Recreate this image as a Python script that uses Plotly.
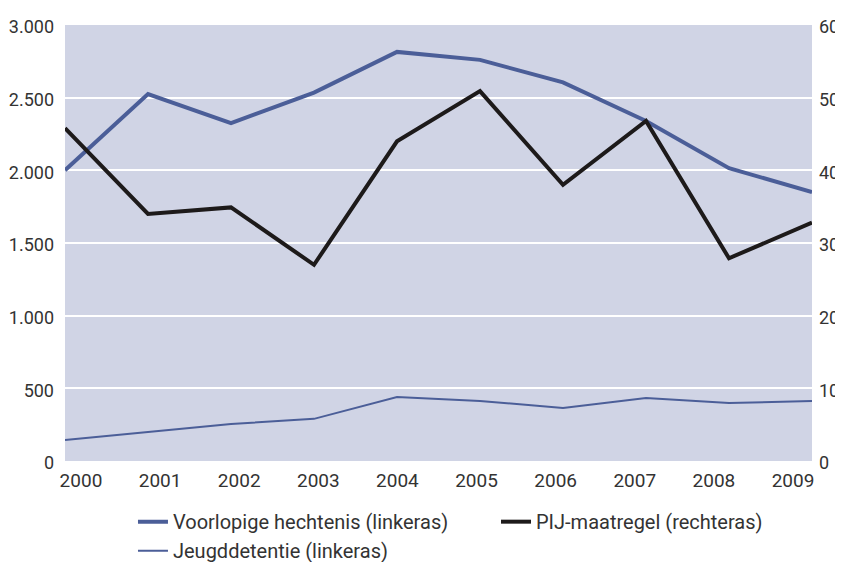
import plotly.graph_objects as go

# Data
jaren = [2000, 2001, 2002, 2003, 2004, 2005, 2006, 2007, 2008, 2009]
voorlopige_hechtenis = [2000, 2525, 2325, 2535, 2815, 2760, 2605, 2340, 2015, 1850]
pij_maatregel = [45.8, 34.0, 34.9, 27.0, 44.0, 50.9, 38.0, 46.8, 27.9, 32.8]
jeugddetentie = [145, 200, 255, 290, 440, 413, 365, 433, 399, 413]

left_ticks = [0, 500, 1000, 1500, 2000, 2500, 3000]
right_ticks = [0, 10, 20, 30, 40, 50, 60]

blauw = '#4b5e98'
zwart = '#1d1a1a'
achtergrond = '#d0d4e5'
tekst = '#333333'
font_family = 'Roboto, Arial, sans-serif'

fig = go.Figure()

fig.add_trace(go.Scatter(
    x=jaren, y=voorlopige_hechtenis, mode='lines',
    name='Voorlopige hechtenis (linkeras)',
    line=dict(color=blauw, width=4),
))
fig.add_trace(go.Scatter(
    x=jaren, y=pij_maatregel, mode='lines', yaxis='y2',
    name='PIJ-maatregel (rechteras)',
    line=dict(color=zwart, width=4),
))
fig.add_trace(go.Scatter(
    x=jaren, y=jeugddetentie, mode='lines',
    name='Jeugddetentie (linkeras)',
    line=dict(color=blauw, width=2),
))
# invisible trace so the label axis is drawn
fig.add_trace(go.Scatter(
    x=jaren, y=[None] * len(jaren), xaxis='x2', mode='lines',
    showlegend=False, hoverinfo='skip',
))

# page body has an 8px margin, so the figure is a bit smaller than the window
fig.update_layout(
    width=835, height=554,
    margin=dict(l=57, r=31, t=17, b=101, autoexpand=False),
    paper_bgcolor='white',
    plot_bgcolor=achtergrond,
    separators=',.',
    font=dict(family=font_family, size=20, color=tekst),
    showlegend=True,
    legend=dict(
        orientation='h', x=0.091, xanchor='left',
        y=0.108, yanchor='top', yref='container',
        entrywidth=318, entrywidthmode='pixels',
        font=dict(size=20, color=tekst),
        tracegroupgap=0,
    ),
    xaxis=dict(
        range=[2000, 2009], showgrid=False, zeroline=False,
        showticklabels=False, ticks='',
    ),
    xaxis2=dict(
        overlaying='x', anchor='y',
        range=[1999.798, 2009.24], tickmode='array', tickvals=jaren,
        ticktext=[str(j) for j in jaren],
        showgrid=False, zeroline=False, ticks='', side='bottom',
        ticklabelstandoff=6,
        tickfont=dict(size=19, color=tekst),
    ),
    yaxis=dict(
        range=[0, 3000], tickmode='array', tickvals=left_ticks,
        tickformat=',d', showgrid=True, gridcolor='white', gridwidth=2,
        zeroline=False, ticks='', ticklabelstandoff=10, ticklabelshift=2,
        tickfont=dict(size=18, color=tekst),
    ),
    yaxis2=dict(
        range=[0, 60], tickmode='array', tickvals=right_ticks,
        overlaying='y', side='right', showgrid=False, zeroline=False,
        ticks='', ticklabelstandoff=6, ticklabelshift=2,
        tickfont=dict(size=18, color=tekst),
    ),
)

fig.write_html('out.html', config={'displayModeBar': False})
